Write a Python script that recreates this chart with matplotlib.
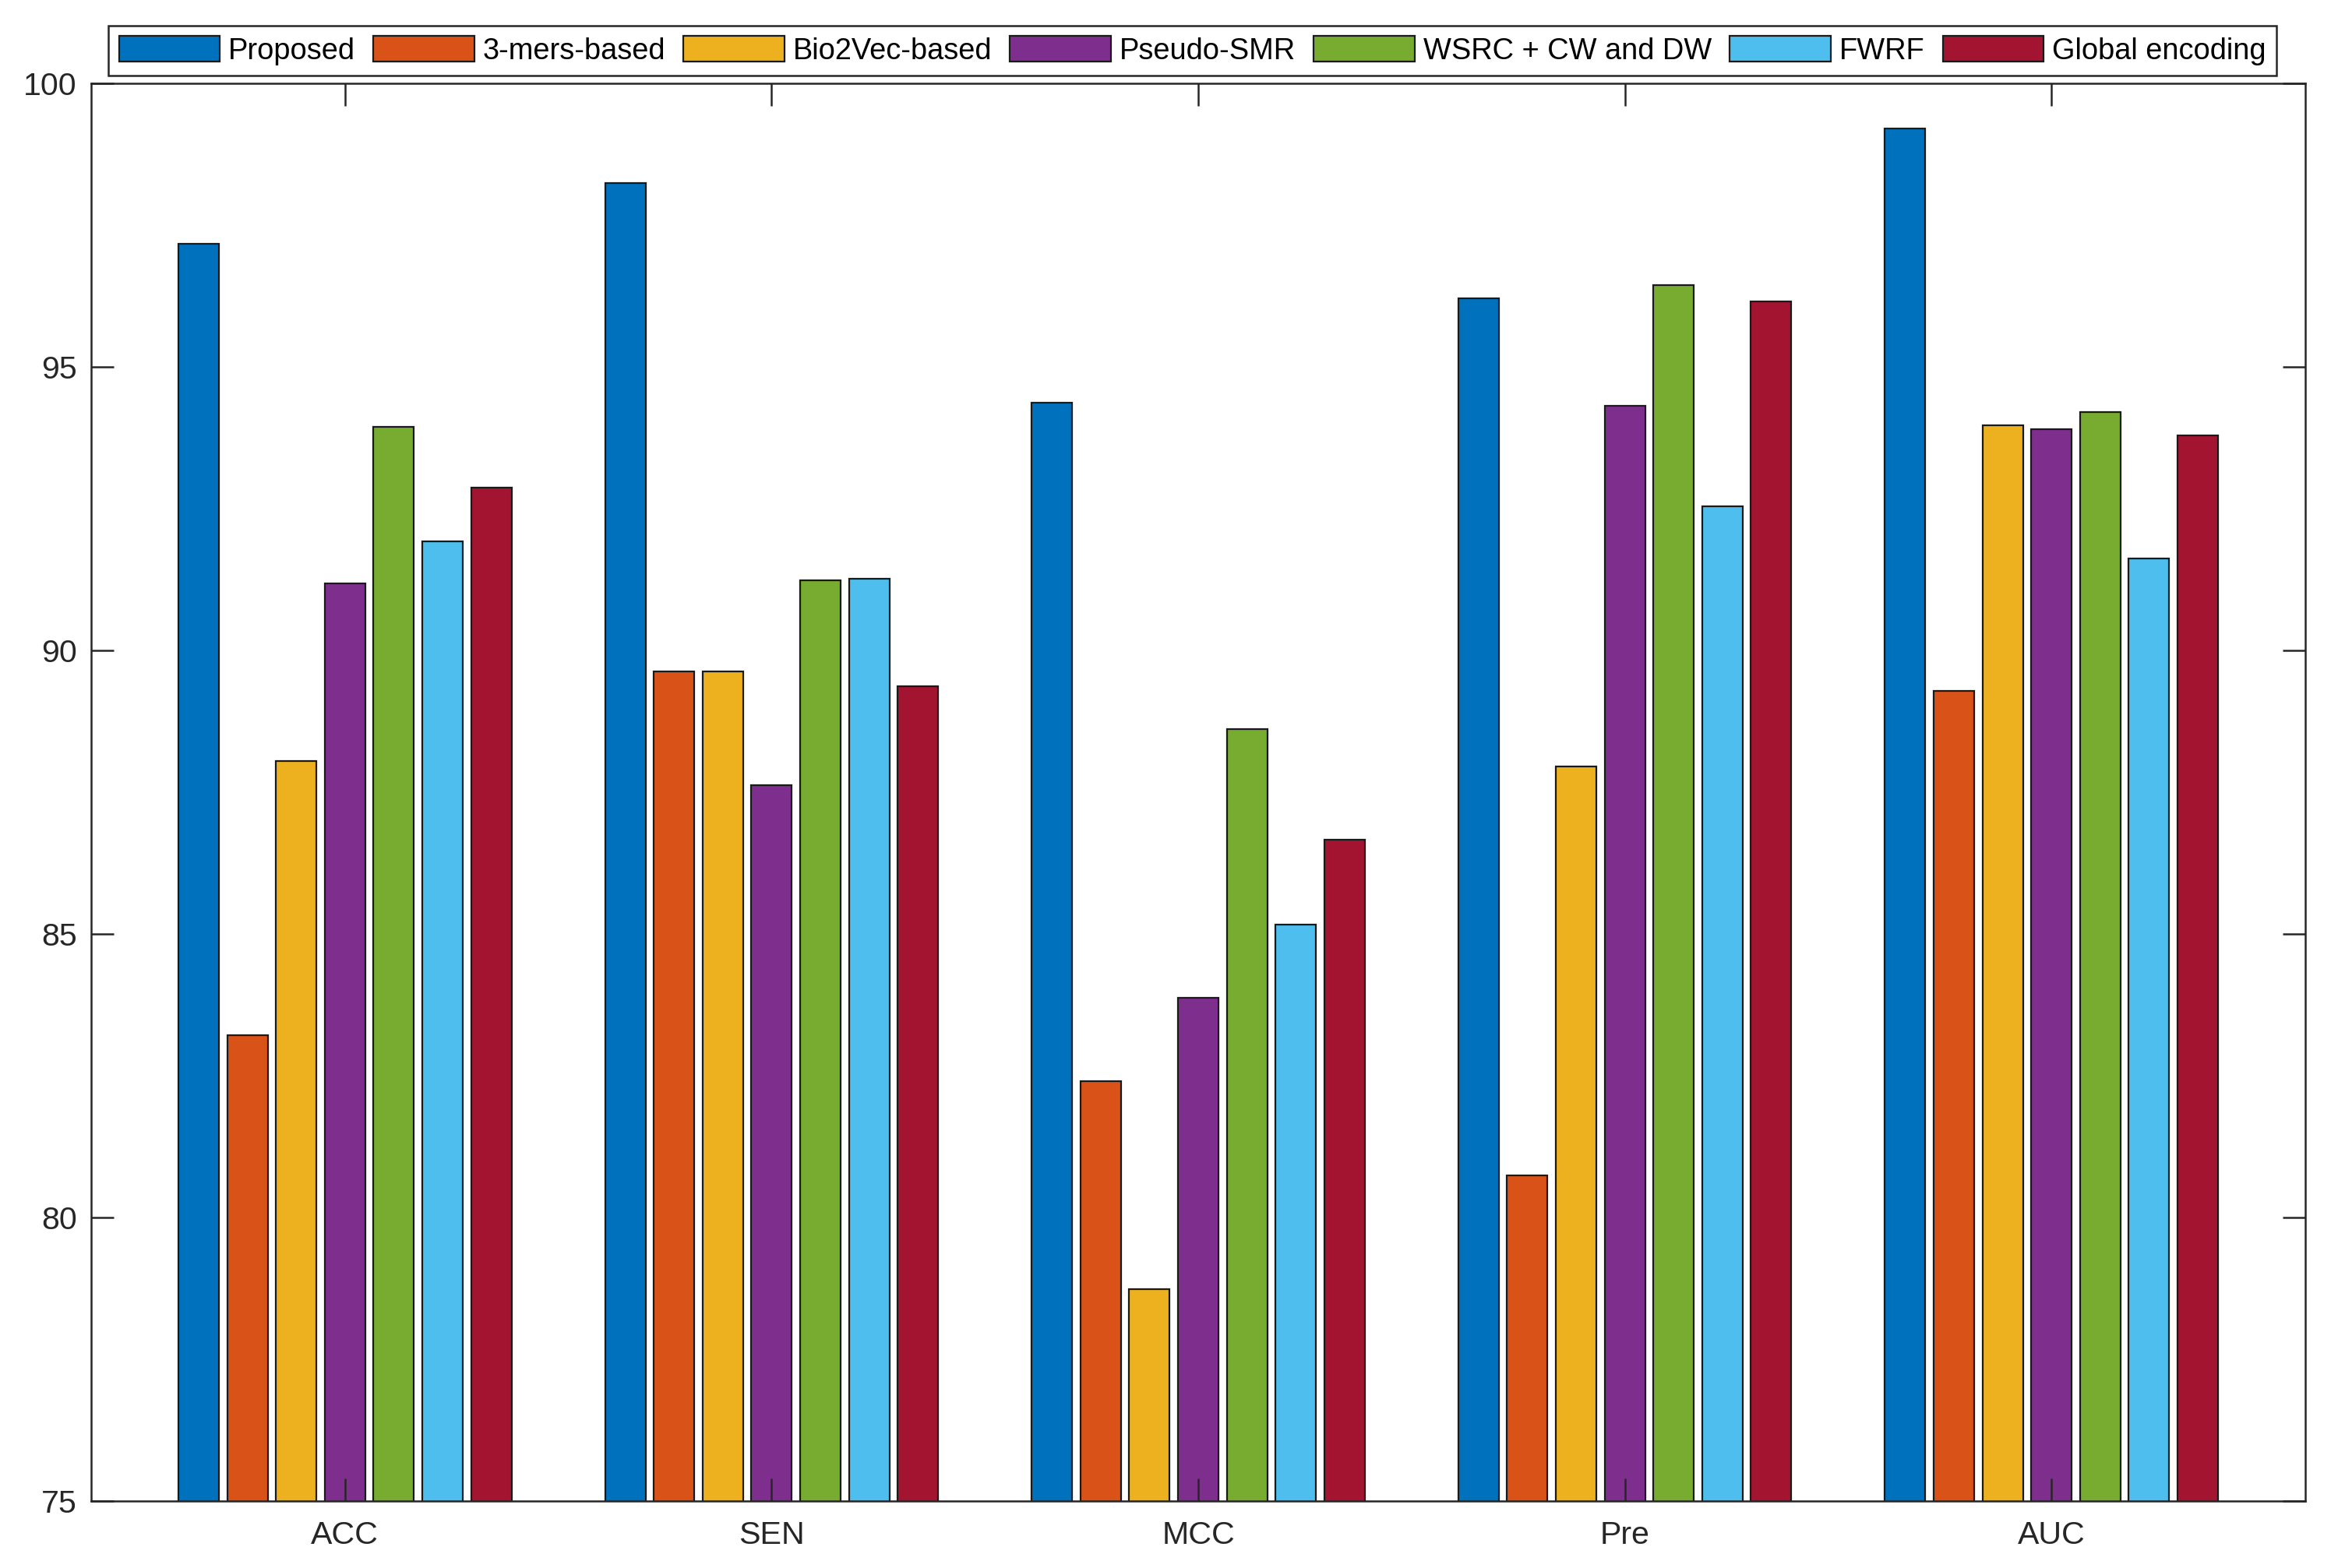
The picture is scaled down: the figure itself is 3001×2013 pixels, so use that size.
import numpy as np
import matplotlib
matplotlib.use("Agg")
import matplotlib.pyplot as plt

plt.rcParams['font.family'] = ['Liberation Sans', 'DejaVu Sans']

metrics = ['ACC', 'SEN', 'MCC', 'Pre', 'AUC']
methods = ['Proposed', '3-mers-based', 'Bio2Vec-based', 'Pseudo-SMR',
           'WSRC + CW and DW', 'FWRF', 'Global encoding']

# values per method, order: ACC, SEN, MCC, Pre, AUC
proposed = [97.18, 98.24, 94.37, 96.21, 99.21]
mers3 = [83.21, 89.63, 82.40, 80.74, 89.29]
bio2vec = [88.05, 89.63, 78.74, 87.95, 93.97]
pseudo_smr = [91.18, 87.63, 83.87, 94.32, 93.90]
wsrc = [93.95, 91.24, 88.61, 96.45, 94.21]
fwrf = [91.92, 91.26, 85.16, 92.55, 91.63]
global_enc = [92.87, 89.37, 86.66, 96.16, 93.79]

series = [proposed, mers3, bio2vec, pseudo_smr, wsrc, fwrf, global_enc]
colors = ['#0072BD', '#D95319', '#EDB120', '#7E2F8E', '#77AC30', '#4DBEEE', '#A2142F']

fig = plt.figure(figsize=(15.005, 10.065), dpi=200)
ax = fig.add_axes([0.039, 0.0427, 0.947, 0.904])

x = np.arange(1, len(metrics) + 1)
step = 0.8 / len(series)
width = 0.095
for i, vals in enumerate(series):
    off = (i - (len(series) - 1) / 2) * step
    ax.bar(x + off, vals, width, bottom=0, color=colors[i], edgecolor='#1a1a1a',
           linewidth=0.8, label=methods[i])

ax.set_xlim(0.405, 5.595)
ax.set_ylim(75, 100)
ax.set_yticks([75, 80, 85, 90, 95, 100])
ax.set_xticks(x)
ax.set_xticklabels(metrics)
ax.tick_params(direction='in', length=10.5, width=0.9, colors='#262626',
               labelsize=14.8, top=True, right=True)
ax.tick_params(axis='y', pad=6.5)
ax.tick_params(axis='x', pad=9)
for s in ax.spines.values():
    s.set_linewidth(0.9)
    s.set_color('#262626')

leg = fig.legend(loc='center', bbox_to_anchor=(0.510, 0.9677), ncol=7,
                 fontsize=13.7, handlelength=3.4, handleheight=0.93,
                 handletextpad=0.29, columnspacing=0.61, borderpad=0.35,
                 fancybox=False, edgecolor='#262626', framealpha=1)
leg.get_frame().set_linewidth(0.9)

fig.savefig('out.png', dpi=200)
